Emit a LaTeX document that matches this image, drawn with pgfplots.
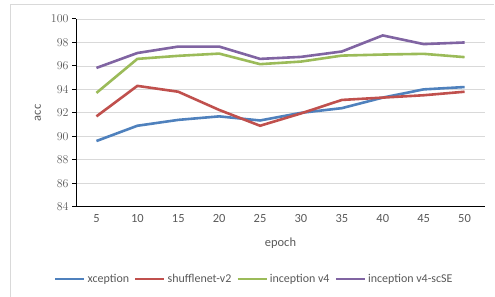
\documentclass[border=0pt]{standalone}
\usepackage{fontspec}
\setmainfont{Carlito}
\usepackage{pgfplots}
\pgfplotsset{compat=1.18}
\definecolor{xblue}{HTML}{4F81BD}
\definecolor{xred}{HTML}{C0504D}
\definecolor{xgreen}{HTML}{9BBB59}
\definecolor{xpurple}{HTML}{8064A2}
\definecolor{txt}{HTML}{595959}
\definecolor{gridc}{HTML}{D9D9D9}
\begin{document}
\begin{tikzpicture}
\useasboundingbox (0bp,0bp) rectangle (495bp,297bp);
\draw[gridc, line width=0.8bp] (10.5bp,0bp) -- (10.5bp,293bp) -- (494bp,293bp);
\begin{axis}[
  at={(76bp,90.3bp)}, anchor=south west,
  scale only axis, width=409bp, height=187.7bp,
  xmin=0.5, xmax=10.5, ymin=84, ymax=100,
  axis x line*=bottom, axis y line*=left,
  axis line style={-, black, line width=1bp},
  xtick={1,...,10}, xticklabels={5,10,15,20,25,30,35,40,45,50},
  major x tick style={draw=none},
  extra x ticks={1.5,2.5,3.5,4.5,5.5,6.5,7.5,8.5,9.5,10.5},
  extra x tick labels={},
  extra x tick style={major tick length=4bp, tick align=inside, tick style={black, line width=1bp}},
  ytick={84,86,...,100},
  ytick align=outside, major tick length=4bp,
  y tick style={black, line width=1bp},
  ymajorgrids, grid style={gridc, line width=0.8bp},
  tick label style={font=\fontsize{12.5}{14}\selectfont, text=txt},
  xticklabel style={yshift=-4bp},
  xlabel={epoch}, ylabel={acc},
  label style={font=\fontsize{12.5}{14}\selectfont, text=txt},
  xlabel style={at={(axis description cs:0.5,-0.193)}, anchor=center},
  ylabel style={at={(axis description cs:-0.093,0.5)}, anchor=center},
  legend columns=4,
  legend style={at={(axis description cs:0.436,-0.385)}, anchor=center, draw=none, fill=none,
    font=\fontsize{12}{14}\selectfont, text=txt, inner xsep=0pt,
    /tikz/every even column/.append style={column sep=3bp}},
  legend image code/.code={\draw[#1] (0bp,0bp) -- (29bp,0bp);},
  every axis plot/.append style={line width=2.6bp, no markers},
]
\addplot[xblue] coordinates {(1,89.6) (2,90.9) (3,91.4) (4,91.7) (5,91.35) (6,92.0) (7,92.4) (8,93.3) (9,94.0) (10,94.2)};
\addlegendentry{xception}
\addplot[xred] coordinates {(1,91.7) (2,94.3) (3,93.8) (4,92.25) (5,90.9) (6,91.95) (7,93.1) (8,93.3) (9,93.5) (10,93.8)};
\addlegendentry{shufflenet-v2}
\addplot[xgreen] coordinates {(1,93.7) (2,96.6) (3,96.86) (4,97.05) (5,96.15) (6,96.37) (7,96.88) (8,96.97) (9,97.03) (10,96.75)};
\addlegendentry{inception v4}
\addplot[xpurple] coordinates {(1,95.83) (2,97.1) (3,97.65) (4,97.65) (5,96.6) (6,96.77) (7,97.23) (8,98.6) (9,97.86) (10,98.0)};
\addlegendentry{inception v4-scSE}
\end{axis}
\end{tikzpicture}
\end{document}
